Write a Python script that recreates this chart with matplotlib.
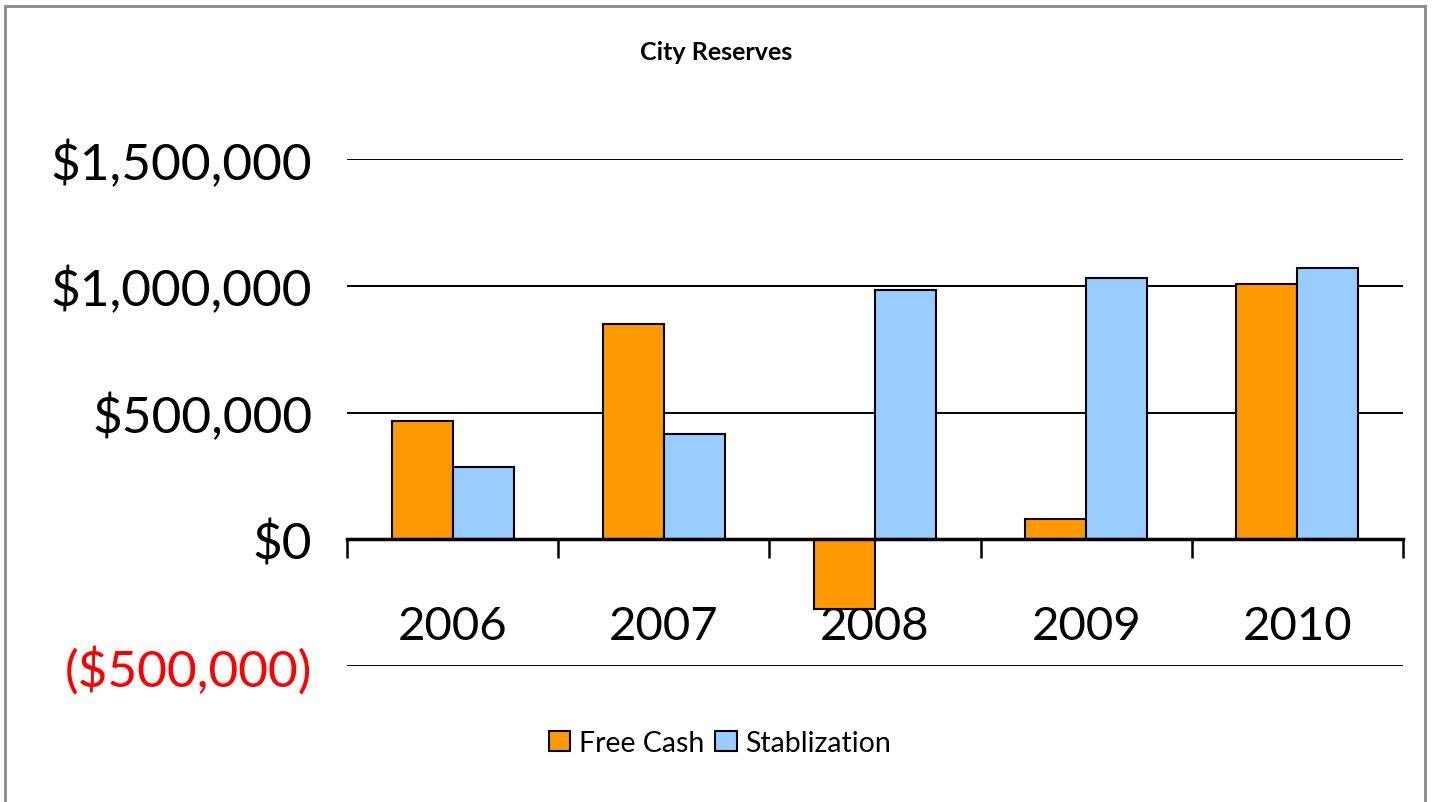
import matplotlib.pyplot as plt
from matplotlib.patches import Rectangle, Patch
from matplotlib.ticker import FuncFormatter
import numpy as np

years = ["2006", "2007", "2008", "2009", "2010"]
free_cash = [468000, 850000, -276000, 79000, 1008000]
stablization = [284000, 417000, 984000, 1031000, 1071000]

plt.rcParams['font.family'] = ['Lato', 'DejaVu Sans']

fig = plt.figure(figsize=(14.32, 8.03), dpi=100)
ax = fig.add_axes([347/1432, 1 - 667/803, (1403 - 347)/1432, (667 - 160)/803])

x = np.arange(len(years))
w = 0.289
ax.bar(x - w/2, free_cash, w, color='#FF9900', edgecolor='black', linewidth=1.5, label='Free Cash', zorder=3)
ax.bar(x + w/2, stablization, w, color='#99CCFF', edgecolor='black', linewidth=1.5, label='Stablization', zorder=3)

ax.set_xlim(-0.5, len(years) - 0.5)
ax.set_ylim(-500000, 1500000)
ax.set_yticks([-500000, 0, 500000, 1000000, 1500000])

def money(v, pos):
    if v < 0:
        return "(${:,.0f})".format(-v)
    return "${:,.0f}".format(v)

ax.yaxis.set_major_formatter(FuncFormatter(money))
ax.tick_params(axis='y', length=0, pad=25, labelsize=37)
for lab in ax.get_yticklabels():
    if lab.get_text().startswith('('):
        lab.set_color('red')

for v in [-500000, 500000, 1000000, 1500000]:
    ax.axhline(v, color='black', linewidth=1.4, zorder=1)

for s in ['top', 'right', 'left']:
    ax.spines[s].set_visible(False)
ax.spines['bottom'].set_position(('data', 0))
ax.spines['bottom'].set_linewidth(2.5)
ax.spines['bottom'].set_zorder(4)

ax.set_xticks(np.arange(len(years) + 1) - 0.5)
ax.set_xticklabels([])
ax.tick_params(axis='x', which='major', direction='out', length=13.5, width=1.8)
ax.set_xticks(x, minor=True)
ax.set_xticklabels(years, minor=True)
ax.tick_params(axis='x', which='minor', length=0, pad=47, labelsize=34)

fig.text(716/1432, 1 - 53/803, "City Reserves", ha='center', va='center', fontsize=18, fontweight='bold')

handles = [Patch(facecolor='#FF9900', edgecolor='black', linewidth=1.5),
           Patch(facecolor='#99CCFF', edgecolor='black', linewidth=1.5)]
fig.legend(handles, ['Free Cash', 'Stablization'], loc='center', bbox_to_anchor=(720/1432, 1 - 744/803),
           ncol=2, frameon=False, fontsize=20.5, handlelength=0.75, handleheight=0.75,
           handletextpad=0.3, columnspacing=0.4)

fig.patches.append(Rectangle((5/1432, -0.01), 1420/1432, 1 - 7/803 + 0.01, transform=fig.transFigure,
                             fill=False, edgecolor='#888888', linewidth=2))

fig.savefig('out.png', dpi=100)
